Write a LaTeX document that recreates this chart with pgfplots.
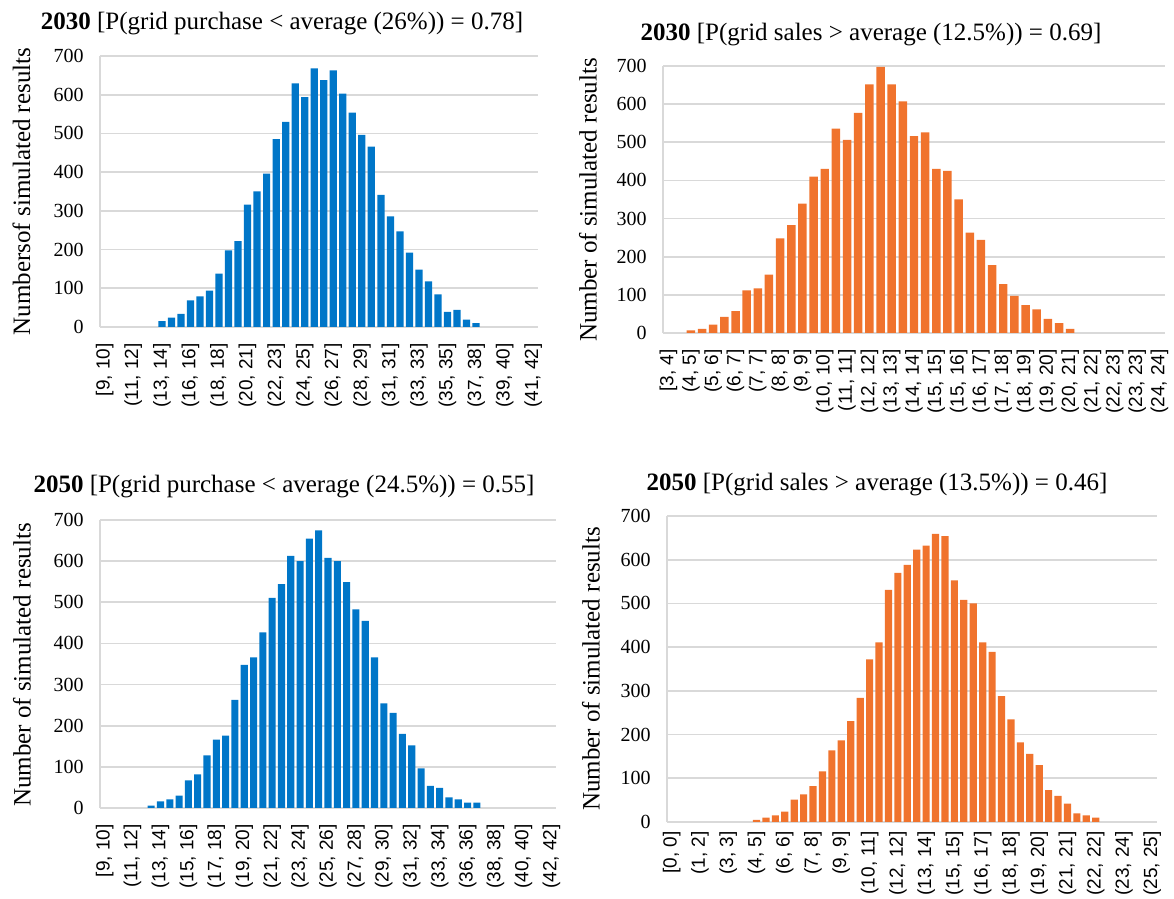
\documentclass[border=0pt]{standalone}
\usepackage{fontspec}
\setmainfont{Liberation Serif}
\newfontfamily\sansf{Liberation Sans}
\usepackage{pgfplots}
\pgfplotsset{compat=1.18}
\definecolor{barblue}{RGB}{0,118,200}
\definecolor{barorange}{RGB}{240,115,45}
\definecolor{gridgray}{RGB}{217,217,217}
\pgfplotsset{
  histo/.style={
    scale only axis,
    anchor=south west,
    ybar, bar width=0.76,
    ymin=0, ymax=700, ytick={0,100,...,700},
    ymajorgrids, grid style={gridgray, line width=0.8pt},
    axis x line=bottom, axis y line=left,
    axis line style={-, draw=gridgray, line width=0.8pt},
    major tick length=0pt,
    /pgf/number format/assume math mode=true,
    yticklabel style={font=\fontsize{10}{12}\selectfont, anchor=east, inner xsep=8pt, inner ysep=0pt},
    xticklabel style={font=\sansf\fontsize{9.5}{11}\selectfont, rotate=90, anchor=east, inner xsep=8pt, inner ysep=0pt},
  }
}
\begin{document}
\begin{tikzpicture}
\useasboundingbox (0,0) rectangle (587pt,449.5pt);
% Panel 1
\begin{axis}[histo, at={(50pt,286pt)}, width=219pt, height=135.5pt,
  xmin=-0.5, xmax=45.5, xtick={0,3,...,45},
  xticklabels={{[9, 10]},{(11, 12]},{(13, 14]},{(16, 16]},{(18, 18]},{(20, 21]},{(22, 23]},{(24, 25]},{(26, 27]},{(28, 29]},{(31, 31]},{(33, 33]},{(35, 35]},{(37, 38]},{(39, 40]},{(41, 42]}}]
\addplot[fill=barblue, draw=none] coordinates {
(6,15) (7,24) (8,34) (9,69) (10,79) (11,94) (12,138) (13,198) (14,222) (15,316)
(16,350) (17,396) (18,485) (19,530) (20,629) (21,594) (22,668) (23,638) (24,663) (25,603)
(26,554) (27,496) (28,466) (29,341) (30,286) (31,247) (32,192) (33,148) (34,118) (35,84)
(36,39) (37,44) (38,19) (39,10)};
\end{axis}
% Panel 2
\begin{axis}[histo, at={(331.5pt,283pt)}, width=251pt, height=133.5pt,
  xmin=-0.5, xmax=44.5, xtick={0,2,...,44},
  xticklabels={{[3, 4]},{(4, 5]},{(5, 6]},{(6, 7]},{(7, 7]},{(8, 8]},{(9, 9]},{(10, 10]},{(11, 11]},{(12, 12]},{(13, 13]},{(14, 14]},{(15, 15]},{(15, 16]},{(16, 17]},{(17, 18]},{(18, 19]},{(19, 20]},{(20, 21]},{(21, 22]},{(22, 23]},{(23, 23]},{(24, 24]}}]
\addplot[fill=barorange, draw=none] coordinates {
(2,7) (3,11) (4,22) (5,42) (6,57) (7,112) (8,117) (9,153) (10,248) (11,283)
(12,339) (13,410) (14,430) (15,536) (16,506) (17,577) (18,652) (19,698) (20,652) (21,607)
(22,516) (23,526) (24,430) (25,425) (26,350) (27,263) (28,244) (29,178) (30,128) (31,97)
(32,73) (33,62) (34,37) (35,26) (36,11)};
\end{axis}
% Panel 3
\begin{axis}[histo, at={(50pt,45.5pt)}, width=228pt, height=144pt,
  xmin=-0.5, xmax=48.5, xtick={0,3,...,48},
  xticklabels={{[9, 10]},{(11, 12]},{(13, 14]},{(15, 16]},{(17, 18]},{(19, 20]},{(21, 22]},{(23, 24]},{(25, 26]},{(27, 28]},{(29, 30]},{(31, 32]},{(33, 34]},{(36, 36]},{(38, 38]},{(40, 40]},{(42, 42]}}]
\addplot[fill=barblue, draw=none] coordinates {
(5,6) (6,16) (7,21) (8,30) (9,67) (10,82) (11,128) (12,166) (13,176) (14,263)
(15,348) (16,366) (17,427) (18,511) (19,544) (20,613) (21,600) (22,655) (23,675) (24,608)
(25,600) (26,549) (27,483) (28,455) (29,366) (30,254) (31,231) (32,180) (33,152) (34,96)
(35,54) (36,49) (37,26) (38,21) (39,13) (40,13)};
\end{axis}
% Panel 4
\begin{axis}[histo, at={(333.5pt,38.5pt)}, width=245pt, height=153pt,
  xmin=-0.5, xmax=51.5, xtick={0,3,...,51},
  xticklabel style={inner xsep=4.5pt},
  xticklabels={{[0, 0]},{(1, 2]},{(3, 3]},{(4, 5]},{(6, 6]},{(7, 8]},{(9, 9]},{(10, 11]},{(12, 12]},{(13, 14]},{(15, 15]},{(16, 17]},{(18, 18]},{(19, 20]},{(21, 21]},{(22, 22]},{(23, 24]},{(25, 25]}}]
\addplot[fill=barorange, draw=none] coordinates {
(9,5) (10,10) (11,15) (12,24) (13,51) (14,63) (15,82) (16,116) (17,164) (18,187)
(19,231) (20,284) (21,372) (22,411) (23,531) (24,570) (25,588) (26,623) (27,632) (28,659)
(29,654) (30,553) (31,508) (32,500) (33,411) (34,389) (35,288) (36,235) (37,182) (38,156)
(39,130) (40,73) (41,60) (42,42) (43,20) (44,15) (45,10)};
\end{axis}
% Titles
\node[anchor=base, font=\fontsize{12.5}{15}\selectfont] at (141pt,434.5pt) {\textbf{2030} [P(grid purchase < average (26\%)) = 0.78]};
\node[anchor=base, font=\fontsize{12.5}{15}\selectfont] at (435.5pt,429pt) {\textbf{2030} [P(grid sales > average (12.5\%)) = 0.69]};
\node[anchor=base, font=\fontsize{12.5}{15}\selectfont] at (142pt,203pt) {\textbf{2050} [P(grid purchase < average (24.5\%)) = 0.55]};
\node[anchor=base, font=\fontsize{12.5}{15}\selectfont] at (438.5pt,204pt) {\textbf{2050} [P(grid sales > average (13.5\%)) = 0.46]};
% Y labels
\node[rotate=90, font=\fontsize{12.5}{15}\selectfont] at (10.75pt,353.75pt) {Numbersof simulated results};
\node[rotate=90, font=\fontsize{12.5}{15}\selectfont] at (294pt,349.5pt) {Number of simulated results};
\node[rotate=90, font=\fontsize{12.5}{15}\selectfont] at (11pt,117pt) {Number of simulated results};
\node[rotate=90, font=\fontsize{12.5}{15}\selectfont] at (295.5pt,115pt) {Number of simulated results};
\end{tikzpicture}
\end{document}
